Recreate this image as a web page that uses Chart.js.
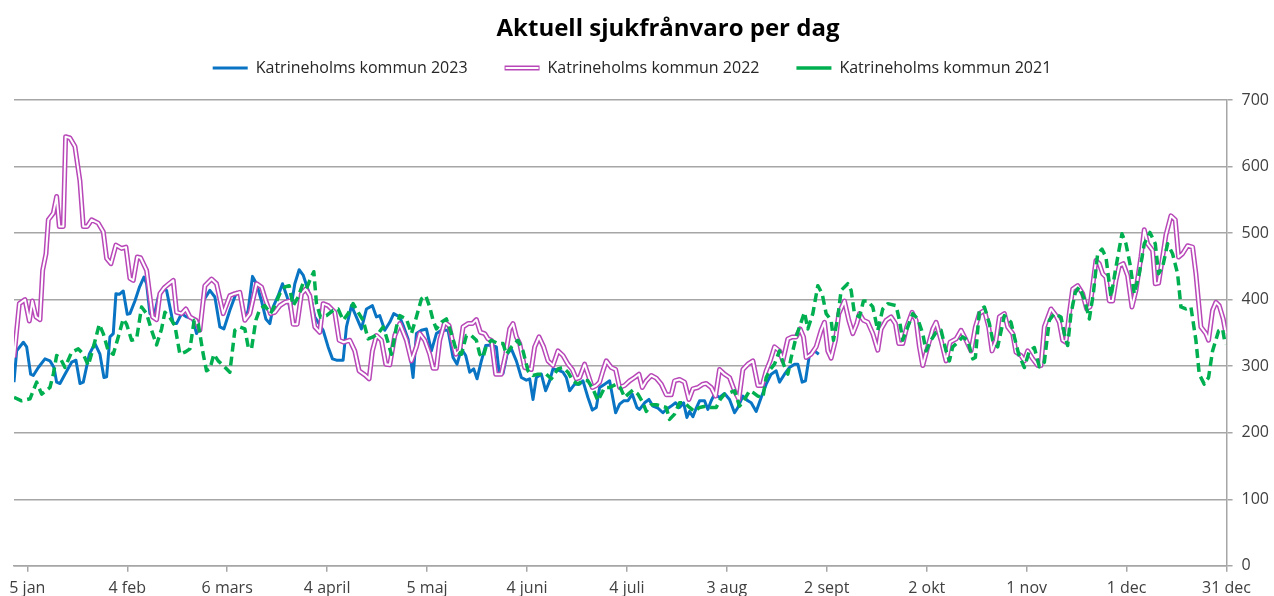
<!DOCTYPE html>
<html>
<head>
<meta charset="utf-8">
<script src="https://cdn.jsdelivr.net/npm/chart.js@4.4.0/dist/chart.umd.min.js"></script>
<style>
  body { margin: 0; background: #fff; }
  #wrap { width: 1274px; height: 596px; }
</style>
</head>
<body>
<div id="wrap"><canvas id="myChart" width="1274" height="596"></canvas></div>
<script>
// day 0 = 1 jan
var tickDays = [4, 34, 64, 94, 124, 154, 184, 214, 244, 274, 304, 334, 364];
var tickLabels = ['5 jan', '4 feb', '6 mars', '4 april', '5 maj', '4 juni', '4 juli', '3 aug', '2 sept', '2 okt', '1 nov', '1 dec', '31 dec'];

var days2023 = [0, 0.8, 2.8, 3.8, 5, 5.8, 7.3, 9.3, 10.8, 12, 12.8, 13.8, 15.3, 17.3, 18.6, 19.8, 20.8, 22.6, 24.3, 25.8, 27, 27.8, 28.8, 29.8, 30.6, 31.6, 32.8, 34, 34.8, 36.3, 37.6, 39, 39.8, 40.8, 42, 43.3, 44.8, 45.8, 47.8, 48.8, 50.3, 51.8, 53.6, 54.8,
  55.8, 56.8, 58.8, 60.3, 61.8, 63, 64.8, 66.8, 68, 69.3, 70.3, 71.6, 72.8, 74.3, 75.6, 76.8, 77.8, 79.3, 80.6, 82, 83, 84.3, 85.6, 86.8, 88.3, 89.3, 90.3, 91.3, 92.8, 94.3, 95.6, 96.8, 98.8, 99.8, 101.3, 102.6, 104.3, 105.8, 107.6, 108.8, 109.8, 111.3, 112.8, 114,
  115.8, 117, 118.3, 119.8, 120.8, 122.3, 123.8, 125.3, 126.8, 128.3, 130.3, 131.8, 133, 134.3, 135.6, 136.8, 138, 139, 140.3, 141.6, 143.3, 144.8, 145.6, 146.8, 148, 149.3, 150.8, 152.3, 153.8, 154.8, 155.8, 156.8, 158.3, 159.6, 160.8, 161.8, 163.3, 164.8, 165.8, 166.8, 168.3, 169.8, 170.8, 172.3, 173.6, 174.8,
  175.8, 177.3, 178.8, 180.6, 181.8, 183, 184.3, 185.6, 187, 187.8, 189.3, 190.6, 191.8, 193.3, 194.8, 195.8, 197.3, 198.6, 199.8, 201, 202, 202.8, 203.8, 204.8, 205.8, 207.3, 208.3, 209.3, 210.3, 211.8, 213.3, 214.8, 216.3, 217.3, 218.8, 220.3, 221.3, 222.8, 224.3, 225.8, 227.3, 228.8, 229.8, 231.3, 232.8, 234.3, 235.3, 236.6, 237.6, 238.8, 240.3, 241.6];
var values2023 = [276, 323, 336, 329, 288, 286, 298, 311, 308, 298, 276, 274, 288, 306, 309, 274, 276, 318, 334, 318, 283, 284, 344, 349, 409, 408, 413, 378, 379, 398, 418, 434, 424, 379, 374, 404, 416, 414, 364, 364, 379, 374, 371, 349,
  359, 398, 414, 404, 359, 356, 384, 411, 409, 369, 384, 435, 424, 398, 371, 364, 389, 406, 424, 404, 384, 424, 445, 437, 414, 398, 374, 366, 354, 329, 311, 309, 309, 359, 391, 376, 356, 386, 391, 374, 376, 354, 366, 379,
  374, 359, 341, 283, 349, 354, 356, 323, 349, 354, 354, 313, 303, 326, 316, 291, 296, 281, 308, 331, 332, 329, 291, 289, 318, 326, 308, 283, 279, 281, 250, 283, 288, 263, 278, 296, 294, 291, 283, 263, 273, 273, 278, 253, 234, 238,
  268, 273, 278, 230, 243, 248, 248, 258, 238, 235, 245, 250, 240, 237, 230, 235, 240, 245, 238, 245, 223, 232, 224, 237, 248, 248, 235, 248, 258, 253, 259, 250, 230, 238, 255, 248, 245, 232, 253, 273, 288, 293, 276, 288, 298, 303, 303, 276, 278, 318, 323, 318];

var days2022 = [0, 1.6, 3.3, 4.6, 5.5, 6.6, 7.8, 8.6, 9.6, 10.3, 11.8, 12.8, 13.6, 14.8, 15.5, 16.8, 18.3, 19.8, 20.8, 22, 23.3, 25.3, 26.8, 27.8, 29.1, 30.6, 32.3, 33.6, 34.8, 35.8, 37, 38, 39.8, 41.6, 42.8, 43.8, 45.1, 46.3, 47.8, 48.8, 50.3, 51.6, 52.8, 54.6,
  55.8, 57.3, 59.3, 60.8, 62.8, 64.8, 66.3, 67.8, 69.3, 70.8, 72.8, 74.3, 75.6, 77, 78.3, 79.8, 81.3, 82.8, 83.8, 85, 86.3, 87.6, 88.8, 90.3, 91.8, 92.8, 94.3, 96.3, 97.6, 99, 100.8, 102.3, 103.6, 105.3, 106.6, 107.6, 108.8, 110.3, 111.6, 112.8, 114.3,
  115.8, 117.8, 119.3, 120.8, 121.8, 123.3, 124.8, 125.8, 126.8, 127.8, 129.3, 130.6, 131.6, 132.6, 133.8, 134.8, 136.3, 137.6, 138.8, 140, 141.3, 142.3, 143.3, 144.6, 146.3, 147.6, 148.8, 149.8, 150.8, 151.8, 153.3, 155.3, 156.3, 157.6, 159, 160.3, 161.8, 163.3, 164.8, 166.3, 167.6, 168.8, 169.8, 171.3, 172.3, 173.6, 174.8,
  175.8, 176.8, 177.8, 179.3, 180.6, 181.8, 183.3, 184.8, 186.3, 187.6, 188.6, 189.8, 191.3, 192.8, 194.3, 195.8, 197.3, 198.3, 199.8, 201.3, 202.6, 203.8, 205.3, 206.8, 207.8, 209.3, 210.6, 211.8, 213.3, 214.8, 216.3, 217.6, 218.8, 220.3, 221.8, 223.3, 224.6, 225.8, 227, 228.3, 229.8, 230.8, 232.3, 233.6, 234.8, 236, 237, 237.8,
  239.3, 240.8, 242.3, 243.3, 244.3, 245.3, 246.6, 247.6, 249.3, 250.6, 251.8, 253, 253.8, 255, 256.3, 257.8, 259.3, 260.3, 261.8, 263.3, 264.6, 265.6, 266.8, 268, 269.6, 270.8, 271.8, 272.8, 274.3, 275.8, 276.8, 278.3, 279.8, 281, 282.8, 284.3, 285.8, 287.3, 288.6, 289.8, 291.3, 292.6, 293.6, 294.8,
  295.8, 297.3, 298.3, 299.8, 300.8, 302.3, 303.3, 304.3, 305.8, 307.3, 308.3, 309.3, 311.3, 312.8, 313.8, 314.8, 315.8, 316.8, 317.8, 319.3, 320.8, 322, 323, 324.8, 325.8, 326.8, 327.8, 328.8, 329.8, 330.8, 331.8, 333, 334.3, 335.6, 336.8, 338.3, 339.3, 340.3, 341.8, 342.6, 343.6, 344.8, 345.8, 347.3, 348.6, 349.6, 350.8, 352.3, 353.8, 354.8, 356.3, 357.8, 358.6, 359.8, 360.8, 361.8, 363, 363.8];
var values2022 = [313, 394, 400, 368, 398, 374, 370, 444, 469, 520, 530, 555, 510, 510, 645, 643, 630, 578, 510, 510, 520, 515, 502, 462, 454, 482, 477, 479, 432, 429, 464, 463, 444, 374, 370, 409, 418, 423, 429, 381, 379, 386, 374, 369,
  354, 421, 431, 424, 379, 406, 409, 411, 369, 379, 424, 419, 398, 379, 381, 391, 396, 398, 363, 363, 409, 416, 406, 359, 351, 394, 391, 381, 339, 336, 339, 323, 293, 287, 281, 323, 346, 339, 303, 302, 346,
  364, 339, 308, 329, 349, 339, 318, 297, 297, 339, 366, 361, 339, 318, 323, 359, 364, 364, 370, 351, 349, 341, 339, 288, 288, 318, 356, 364, 344, 334, 298, 295, 329, 344, 329, 308, 301, 323, 316, 303, 295, 281, 283, 303, 288, 268, 271,
  276, 293, 308, 298, 295, 268, 271, 278, 283, 288, 268, 278, 286, 282, 273, 257, 257, 278, 280, 276, 250, 266, 268, 273, 274, 268, 255, 295, 288, 283, 263, 250, 295, 303, 308, 271, 271, 293, 308, 329, 323, 308, 341, 344, 344, 356, 344, 313,
  318, 329, 354, 366, 323, 312, 339, 379, 398, 369, 349, 364, 379, 369, 366, 349, 324, 356, 369, 374, 364, 334, 334, 359, 381, 369, 329, 301, 329, 356, 366, 339, 308, 336, 341, 354, 339, 323, 359, 379, 384, 359, 323, 339,
  374, 379, 359, 349, 321, 316, 308, 323, 311, 301, 301, 359, 386, 376, 366, 339, 336, 379, 416, 421, 409, 386, 389, 459, 454, 439, 434, 398, 398, 429, 451, 454, 436, 389, 414, 464, 505, 484, 474, 424, 425, 464, 497, 526, 520, 464, 469, 481, 479, 439, 359, 349, 339, 384, 396, 391, 371, 349];

var days2021 = [0, 2.3, 4.8, 6.8, 8.3, 10.8, 11.8, 12.8, 13.8, 15.3, 17.3, 19.3, 20.8, 22.3, 23.8, 25.6, 26.8, 28.3, 29.8, 31.3, 32.8, 33.8, 35.3, 36.8, 38.3, 39.8, 41.3, 42.8, 44.3, 45.3, 46.8, 48.3, 49.8, 51.3, 52.8, 54.1, 55.3,
  56.8, 57.8, 58.8, 60, 61.3, 62.8, 64.8, 66.3, 67.8, 69.3, 70.3, 71.3, 72.6, 73.8, 75.3, 77, 78.3, 79.8, 81.3, 82.6, 83.8, 85.3, 86.8, 88, 88.8, 90, 90.8, 92, 93.8, 95.8, 97.3, 98.8, 100.3, 101.8, 103.3, 104.8, 106.3, 107.8, 109.3, 110.8, 111.8, 113.3, 114.8,
  115.8, 117.8, 119.3, 120.8, 122.3, 123.6, 124.8, 125.8, 126.8, 128.3, 129.8, 131.3, 132.8, 134.3, 135.8, 137.3, 138.8, 139.8, 140.8, 141.8, 143.3, 145.3, 146.8, 147.8, 149.3, 151.3, 152.8, 154.3, 155.8, 157.3, 159.8, 161.3, 163.3, 164.8, 166.3, 167.8, 169.3, 170.8, 172.3, 173.8, 175.3,
  177.3, 178.8, 180.8, 182, 183.3, 184.8, 185.8, 187.3, 188.8, 189.8, 191.3, 192.8, 194.3, 195.8, 196.8, 198.3, 199.8, 201.3, 202.8, 204.3, 205.8, 207.6, 209.3, 210.8, 212, 213.3, 214.8, 216.3, 217.8, 219.3, 220.8, 222, 223.3, 224.8, 225.8, 227, 228.3, 229.8, 231, 232.3, 233.3, 234.8,
  235.8, 237.3, 238.3, 239.8, 241.3, 242.6, 243.8, 245.3, 246, 247.3, 248.3, 250.3, 251.3, 252.3, 253.8, 255, 256.3, 257.8, 259.3, 260.8, 262.3, 264.8, 265.8, 266.8, 268.3, 269.8, 271.3, 272.8, 273.8, 275.3, 276.8, 278.3, 279.8, 280.8, 281.8, 283.3, 284.8, 286.3, 287.8, 288.6, 289.8, 291.3, 292.8, 293.8, 295.3,
  297.3, 299.3, 300.3, 301.6, 303.3, 304.8, 306.3, 307.8, 309.3, 310.8, 312.3, 314.3, 315.3, 316.3, 317.3, 318.6, 319.8, 321.3, 322.8, 324, 325.3, 326.6, 327.8, 329.3, 330.8, 332.6, 333.8, 335, 336.3, 337.8, 339.3, 341, 342.6, 343.6, 344.8, 346.3, 347.8, 349.3, 350.3, 351.8, 353.3, 354.8, 355.8, 357.3, 358.6, 359.8, 361.6, 362.8, 363.6];
var values2021 = [253, 248, 251, 276, 258, 268, 288, 316, 313, 298, 321, 326, 318, 301, 328, 363, 349, 323, 318, 344, 371, 363, 339, 341, 389, 379, 354, 332, 356, 381, 373, 361, 318, 321, 326, 369, 364,
  318, 293, 296, 318, 308, 301, 291, 354, 359, 356, 329, 326, 369, 386, 391, 379, 391, 409, 419, 421, 391, 404, 425, 419, 429, 442, 394, 374, 376, 384, 386, 369, 379, 394, 381, 369, 341, 344, 349, 359, 344, 318, 359,
  376, 371, 349, 374, 401, 406, 389, 369, 356, 366, 371, 349, 323, 318, 346, 346, 339, 318, 313, 331, 339, 334, 334, 318, 329, 339, 323, 293, 286, 288, 288, 281, 296, 298, 291, 278, 273, 279, 278, 266, 248,
  268, 268, 273, 268, 253, 260, 264, 258, 245, 232, 242, 242, 240, 238, 220, 228, 245, 245, 238, 232, 238, 240, 238, 238, 250, 258, 260, 263, 240, 250, 263, 260, 255, 253, 283, 295, 303, 323, 303, 288, 313, 344,
  359, 381, 356, 379, 421, 409, 379, 369, 339, 374, 414, 424, 414, 379, 374, 398, 398, 389, 354, 386, 394, 391, 369, 339, 359, 379, 371, 349, 323, 339, 351, 354, 323, 308, 329, 336, 344, 339, 311, 313, 384, 389, 364, 339, 329,
  376, 366, 344, 318, 298, 323, 328, 299, 306, 369, 379, 374, 349, 331, 379, 411, 419, 401, 371, 409, 469, 476, 464, 404, 449, 499, 484, 454, 409, 439, 484, 501, 484, 439, 449, 484, 469, 439, 389, 386, 389, 339, 288, 273, 283, 323, 353, 356, 333];

function points(days, values) {
    return days.map(function (d, i) { return { x: d, y: values[i] }; });
}

// layout tweaks: title offset to the right, legend nudged left with extra
// space under it, and a white core line through the 2022 legend sample
var layoutTweaks = {
    id: 'layoutTweaks',
    afterInit: function (chart) {
        var fit = chart.legend.fit;
        chart.legend.fit = function () {
            fit.call(this);
            this.height += 14;
        };
    },
    afterLayout: function (chart) {
        var t = chart.titleBlock;
        t.top += 18; t.bottom += 18;
        t.left += 22; t.right += 22;
        chart.legend.left -= 14;
        chart.legend.right -= 14;
    },
    afterDraw: function (chart) {
        var legend = chart.legend;
        var ctx = chart.ctx;
        legend.legendItems.forEach(function (item, i) {
            if (item.datasetIndex !== 1) return;
            var box = legend.legendHitBoxes[i];
            var y = box.top + box.height / 2;
            ctx.save();
            ctx.strokeStyle = '#ffffff';
            ctx.lineWidth = 2;
            ctx.beginPath();
            ctx.moveTo(box.left + 1, y);
            ctx.lineTo(box.left + 34, y);
            ctx.stroke();
            ctx.restore();
        });
    }
};

Chart.defaults.font.family = "'Open Sans', sans-serif";
Chart.defaults.color = '#404040';

new Chart("myChart", {
    type: "line",
    data: {
        datasets: [{
            label: 'Katrineholms kommun 2023',
            data: points(days2023, values2023),
            borderColor: '#0a74c4',
            borderWidth: 3,
            order: 3
        }, {
            label: 'Katrineholms kommun 2022',
            data: points(days2022, values2022),
            borderColor: '#b847b8',
            borderWidth: 5,
            order: 2
        }, {
            label: '',
            data: points(days2022, values2022),
            borderColor: '#ffffff',
            borderWidth: 2,
            order: 1
        }, {
            label: 'Katrineholms kommun 2021',
            data: points(days2021, values2021),
            borderColor: '#00b050',
            borderWidth: 3.5,
            borderDash: [9, 5],
            order: 0
        }]
    },
    options: {
        responsive: false,
        animation: false,
        devicePixelRatio: 1,
        events: [],
        elements: {
            point: { radius: 0 },
            line: { tension: 0, borderJoinStyle: 'round' }
        },
        layout: { padding: { left: 14, right: -4, top: 0, bottom: -9 } },
        plugins: {
            title: {
                display: true,
                text: 'Aktuell sjukfrånvaro per dag',
                color: '#000000',
                font: { size: 24, weight: 'bold', lineHeight: 0.96 },
                padding: { top: 0, bottom: 0 }
            },
            legend: {
                labels: {
                    usePointStyle: true,
                    pointStyle: 'line',
                    pointStyleWidth: 35,
                    boxWidth: 35,
                    boxHeight: 16,
                    padding: 37,
                    color: '#262626',
                    font: { size: 16 },
                    filter: function (item) { return item.text !== ''; },
                    sort: function (a, b) { return a.datasetIndex - b.datasetIndex; }
                }
            },
            tooltip: { enabled: false }
        },
        scales: {
            x: {
                type: 'linear',
                min: 0,
                max: 364,
                afterBuildTicks: function (axis) {
                    axis.ticks = tickDays.map(function (d) { return { value: d }; });
                },
                ticks: {
                    autoSkip: false,
                    maxRotation: 0,
                    padding: 7,
                    font: { size: 16 },
                    callback: function (value, index) { return tickLabels[index]; }
                },
                grid: { drawOnChartArea: false, drawTicks: true, tickLength: 6, color: '#a6a6a6', lineWidth: 1.5 },
                border: { display: true, color: '#a6a6a6', width: 1.5 }
            },
            y: {
                position: 'right',
                min: 0,
                max: 700,
                ticks: { stepSize: 100, padding: 9, font: { size: 16 } },
                grid: { color: '#a6a6a6', lineWidth: 1.5, tickLength: 6 },
                border: { display: true, color: '#a6a6a6', width: 1.5 }
            }
        }
    },
    plugins: [layoutTweaks]
});
</script>
</body>
</html>
